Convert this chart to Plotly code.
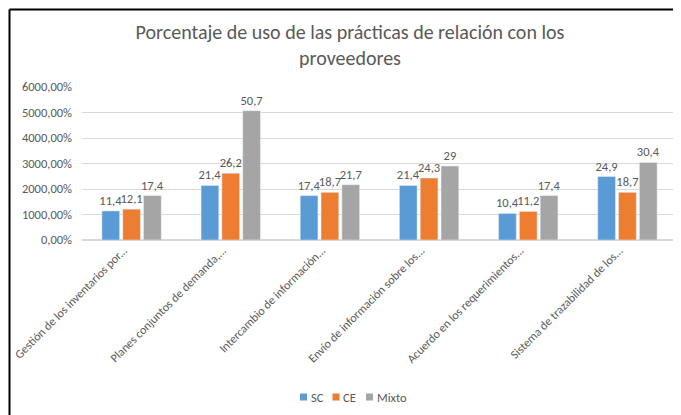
import plotly.graph_objects as go

categories = [
    "Gestión de los inventarios por...",
    "Planes conjuntos de demanda,...",
    "Intercambio de información...",
    "Envío de información sobre los...",
    "Acuerdo en los requerimientos...",
    "Sistema de trazabilidad de los...",
]
sc = [11.4, 21.4, 17.4, 21.4, 10.4, 24.9]
ce = [12.1, 26.2, 18.7, 24.3, 11.2, 18.7]
mixto = [17.4, 50.7, 21.7, 29, 17.4, 30.4]
tick_vals = [0, 10, 20, 30, 40, 50, 60]

series = [("SC", sc, "#5B9BD5"), ("CE", ce, "#ED7D31"), ("Mixto", mixto, "#A5A5A5")]

FONT = "Carlito, Lato, sans-serif"
GREY = "#595959"

OFF = 8  # page body margin
W, H = 681 - OFF, 415 - OFF
ML, MR, MT, MB = 82 - OFF, 4, 87 - OFF, 175
pw = W - ML - MR
ph = H - MT - MB

def px_x(p):  # page pixel -> paper x
    return (p - OFF - ML) / pw

def px_y(p):  # page pixel -> paper y
    return (H + OFF - MB - p) / ph

fig = go.Figure()
for name, vals, color in series:
    fig.add_trace(go.Bar(
        name=name, x=categories, y=vals, marker_color=color,
        text=[str(v).replace(".", ",") for v in vals],
        textposition="outside", constraintext="none", cliponaxis=False,
        textfont=dict(size=12.5, color=GREY, family=FONT),
        showlegend=False,
    ))

# manual legend (Excel-style small squares)
legend_sq_x = [300, 332.5, 366]
shapes = []
annotations = []
for (name, vals, color), sx in zip(series, legend_sq_x):
    shapes.append(dict(type="rect", xref="paper", yref="paper",
                       x0=px_x(sx), x1=px_x(sx + 7), y0=px_y(393.5), y1=px_y(400.5),
                       fillcolor=color, line=dict(width=0)))
    annotations.append(dict(text=name, xref="paper", yref="paper", x=px_x(sx + 8.5), y=px_y(397),
                            xanchor="left", yanchor="middle", showarrow=False,
                            font=dict(size=12.5, color=GREY, family=FONT)))

shapes += [
    dict(type="line", xref="paper", yref="paper", x0=px_x(9.5), x1=px_x(690), y0=px_y(9.5), y1=px_y(9.5),
         line=dict(color="black", width=2)),
    dict(type="line", xref="paper", yref="paper", x0=px_x(9.5), x1=px_x(9.5), y0=px_y(9.5), y1=px_y(420),
         line=dict(color="black", width=2)),
]

fig.update_layout(
    width=W, height=H,
    margin=dict(l=ML, r=MR, t=MT, b=MB),
    paper_bgcolor="white", plot_bgcolor="white",
    separators=",.",
    barmode="group", bargap=0.37, bargroupgap=0.15,
    font=dict(family=FONT, color=GREY),
    title=dict(
        text="Porcentaje de uso de las prácticas de relación con los<br>proveedores",
        x=(350 - OFF) / W, xanchor="center", y=1 - (38.5 - OFF) / H, yanchor="middle",
        font=dict(size=20, color=GREY, family=FONT),
    ),
    xaxis=dict(tickangle=-45, tickfont=dict(size=12, color=GREY, family=FONT),
               showgrid=False, showline=False, ticks="", ticklabelshift=-8),
    yaxis=dict(range=[0, 60], tickvals=tick_vals, tickformat=".2%",
               tickfont=dict(size=12.5, color=GREY, family=FONT),
               gridcolor="#D9D9D9", zerolinecolor="#D9D9D9", showline=False, ticks="",
               ticklabelstandoff=9),
    showlegend=False,
    shapes=shapes,
    annotations=annotations,
)

fig.write_html("out.html")
